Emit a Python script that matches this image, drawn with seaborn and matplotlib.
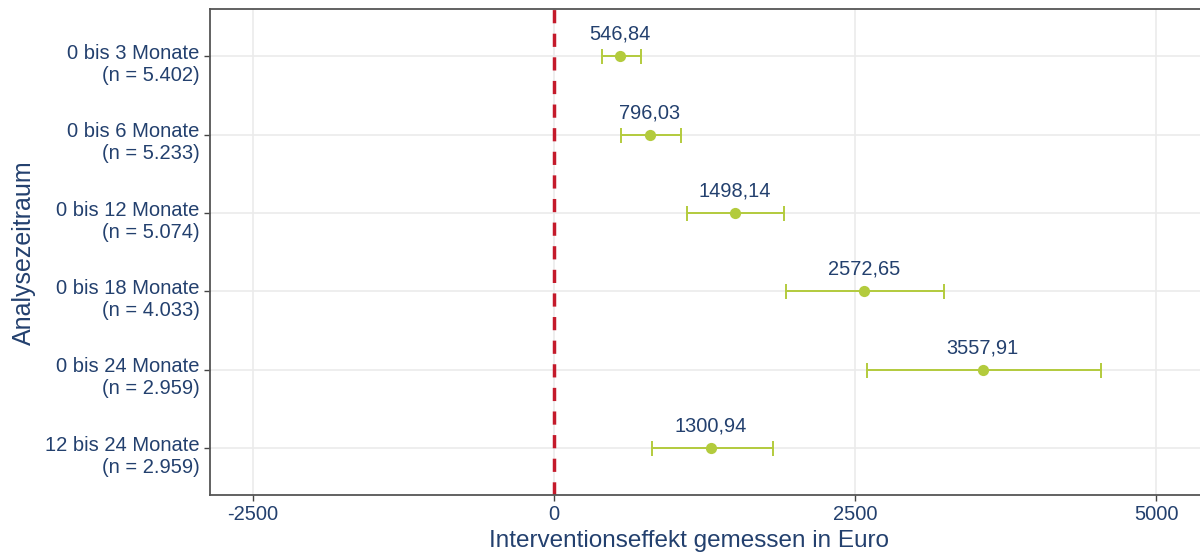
import matplotlib
matplotlib.use("Agg")
import matplotlib.pyplot as plt
import matplotlib.transforms as mtransforms
import seaborn as sns
import pandas as pd

# Effect estimates with 95% confidence intervals per analysis window
zeitraum = [
    "0 bis 3 Monate\n(n = 5.402)",
    "0 bis 6 Monate\n(n = 5.233)",
    "0 bis 12 Monate\n(n = 5.074)",
    "0 bis 18 Monate\n(n = 4.033)",
    "0 bis 24 Monate\n(n = 2.959)",
    "12 bis 24 Monate\n(n = 2.959)",
]
effekt = [546.84, 796.03, 1498.14, 2572.65, 3557.91, 1300.94]
ki_unten = [396, 556, 1106, 1923, 2595, 813]
ki_oben = [720, 1054, 1909, 3237, 4537, 1817]
x_ticks = [-2500, 0, 2500, 5000]

df = pd.DataFrame({"zeitraum": zeitraum, "effekt": effekt,
                   "lo": ki_unten, "hi": ki_oben})

sns.set_theme(style="whitegrid")
plt.rcParams["font.family"] = ["Liberation Sans", "DejaVu Sans"]

text_col = "#23406e"
green = "#b3cb3d"
red = "#c41a2b"

fig = plt.figure(figsize=(12, 5.58), dpi=100)
ax = fig.add_axes([0.175, 0.113, 0.830, 0.870])

ypos = list(range(len(df)))
ax.errorbar(df["effekt"], ypos,
            xerr=[df["effekt"] - df["lo"], df["hi"] - df["effekt"]],
            fmt="none", ecolor=green, elinewidth=1.4, capsize=5.4,
            capthick=1.4, zorder=3)
sns.scatterplot(x=df["effekt"], y=ypos, ax=ax, color=green, s=65,
                marker="o", edgecolor=green, linewidth=0, zorder=4)

ax.axvline(0, color=red, lw=2.5, ls=(0, (3.8, 3.0)), zorder=2)

for y, v in zip(ypos, effekt):
    ax.text(v, y - 0.16, f"{v:.2f}".replace(".", ","), ha="center",
            va="bottom", fontsize=14.4, color=text_col)

ax.set_xlim(-2855, 5411)
ax.set_ylim(len(df) - 0.4, -0.6)
ax.set_xticks(x_ticks)
ax.set_xticklabels([str(t) for t in x_ticks])
ax.set_yticks(ypos)
ax.set_yticklabels(zeitraum, ha="right", multialignment="right")
ax.tick_params(axis="both", colors="#444444", labelcolor=text_col,
               labelsize=14.5, length=4, width=1, direction="out",
               left=True, bottom=True, pad=3.5)

# nudge the two-line category labels slightly below their ticks
shift = mtransforms.ScaledTranslation(0, -3.3 / 72, fig.dpi_scale_trans)
for lab in ax.get_yticklabels():
    lab.set_transform(lab.get_transform() + shift)

ax.grid(True, color="#ebebeb", lw=1.2)
ax.set_axisbelow(True)
for sp in ax.spines.values():
    sp.set_color("#555555")
    sp.set_linewidth(1.3)

ax.set_xlabel("Interventionseffekt gemessen in Euro", fontsize=17.5,
              color=text_col, va="top")
ax.xaxis.set_label_coords(0.481, -0.072)
ax.set_ylabel("Analysezeitraum", fontsize=18, color=text_col)
ax.yaxis.set_label_coords(-0.175, 0.5)

fig.savefig("out.png", dpi=100)
